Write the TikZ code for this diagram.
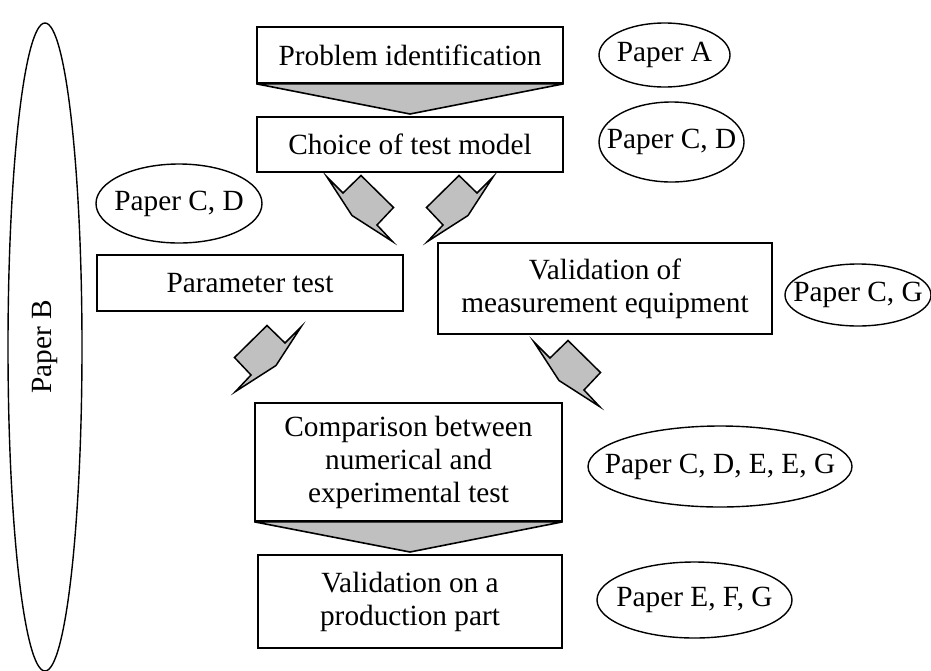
\documentclass[tikz,border=0pt]{standalone}
\usepackage{fontspec}
\setmainfont{Liberation Serif}
\usetikzlibrary{shapes.geometric}
\definecolor{arrgray}{RGB}{192,192,192}
\newcommand\zw[1]{\makebox[0pt]{#1}}
\begin{document}
\begin{tikzpicture}[x=1pt,y=-1pt,
  every node/.style={font=\fontsize{29.3}{33}\selectfont},
  box/.style={draw,line width=1.6pt,rectangle,inner sep=0pt,align=center},
  oval/.style={draw,line width=1.4pt,ellipse,inner sep=0pt},
  trap/.style={draw,line width=1.6pt,fill=arrgray,line join=miter},
  chev/.style={draw,line width=1.5pt,fill=arrgray,line join=miter},
  pics/chevdr/.style={code={\draw[chev] (0,0) -- (16,16) -- (34,-1.5) -- (66.5,30.5) -- (50,48) -- (65.5,64.5) -- (25,38.5) -- cycle;}},
  pics/chevdl/.style={code={\draw[chev] (0,0) -- (-16,16) -- (-34,-1.5) -- (-66.5,30.5) -- (-50,48) -- (-65.5,64.5) -- (-25,38.5) -- cycle;}}]
\useasboundingbox (0,0) rectangle (931,670);

% boxes
\node[box,minimum width=306pt,minimum height=56pt] (pi) at (410,55) {Problem identification};
\node[box,minimum width=306pt,minimum height=55pt] (ct) at (410,144.5) {Choice of test model};
\node[box,minimum width=306pt,minimum height=56pt] (pt) at (250,283) {Parameter test};
\node[box,minimum width=334pt,minimum height=91pt] (vm) at (605,288.5) {Validation of\\measurement equipment};
\node[box,minimum width=307pt,minimum height=118pt] (cmp) at (408.5,462) {Comparison between\\numerical and\\experimental test};
\node[box,minimum width=304pt,minimum height=93pt] (vp) at (410,601.5) {Validation on a\\production part};

% ovals
\node[oval,minimum width=131pt,minimum height=64pt] (pa) at (664.5,55) {\zw{Paper A}};
\node[oval,minimum width=145pt,minimum height=80pt] (pcd1) at (671.5,142) {\zw{Paper C, D}};
\node[oval,minimum width=166pt,minimum height=79pt] (pcd2) at (179,203.5) {\zw{Paper C, D}};
\node[oval,minimum width=146pt,minimum height=62pt] (pcg) at (858,295) {\zw{Paper C, G}};
\node[oval,minimum width=264pt,minimum height=81pt] (pcdeeg) at (720,466.5) {\zw{Paper C, D, E, E, G}};
\node[oval,minimum width=195pt,minimum height=76pt] (pefg) at (694.5,600) {\zw{Paper E, F, G}};
\node[oval,rotate=90,minimum width=648pt,minimum height=74pt] (pb) at (45,347) {\zw{Paper B}};

% trapezoid arrows
\coordinate (t1) at (410,114);
\draw[trap] (pi.south west) -- (pi.south east) -- (t1) -- cycle;
\coordinate (t2) at (410,552);
\draw[trap] (cmp.south west) -- (cmp.south east) -- (t2) -- cycle;

% chevron arrows
\pic (c1) at (327,177) {chevdr};
\pic (c2) at (493,177) {chevdl};
\pic (c3) at (301,327) {chevdl};
\pic (c4) at (534,342) {chevdr};
\end{tikzpicture}
\end{document}
